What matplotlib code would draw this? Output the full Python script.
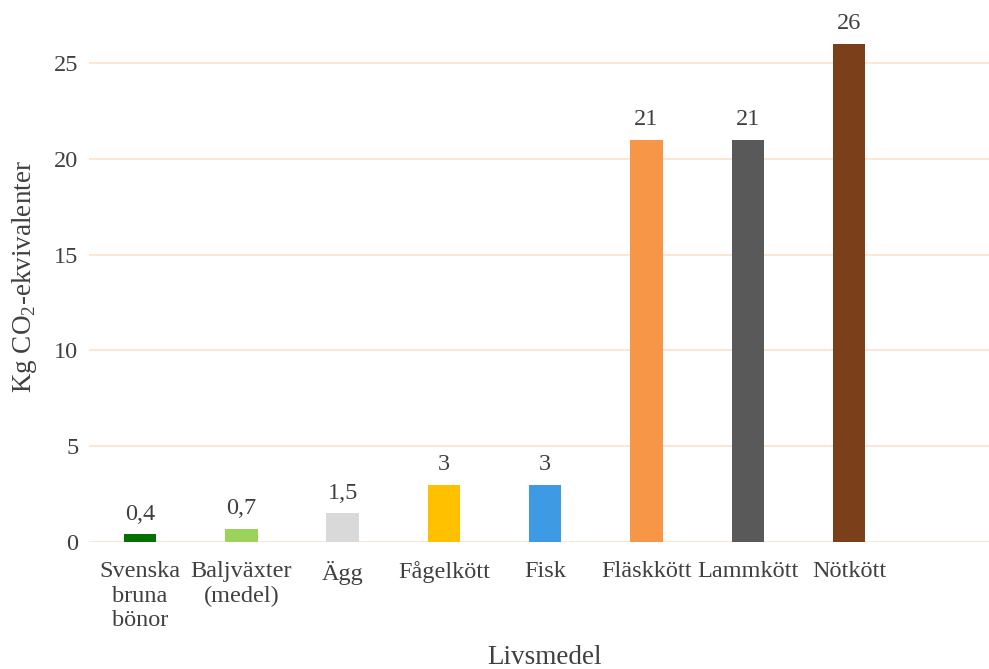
import numpy as np
import matplotlib
matplotlib.use("Agg")
import matplotlib.pyplot as plt

# data
foods = ["Svenska\nbruna\nbönor", "Baljväxter\n(medel)", "Ägg", "Fågelkött", "Fisk",
         "Fläskkött", "Lammkött", "Nötkött"]
co2 = [0.4, 0.7, 1.5, 3, 3, 21, 21, 26]
bar_colors = ["#037003", "#9BD35A", "#D9D9D9", "#FFC000", "#3E9BE3",
              "#F79646", "#595959", "#7B3F1A"]
yticks = [0, 5, 10, 15, 20, 25]

plt.rcParams["font.family"] = ["Liberation Serif", "DejaVu Serif"]
plt.rcParams["mathtext.fontset"] = "custom"
plt.rcParams["mathtext.rm"] = "Liberation Serif"
text_color = "#404040"
grid_color = "#FBE5D0"

fig = plt.figure(figsize=(9.89, 6.69), dpi=100)
ax = fig.add_axes([89.4 / 989, 1 - 542 / 669, 911.7 / 989, 542 / 669])

x = np.arange(len(foods))
bars = ax.bar(x, co2, width=0.32, color=bar_colors, zorder=3)

for xi, v in zip(x, co2):
    lbl = f"{v:g}".replace(".", ",")
    ax.annotate(lbl, (xi, v), xytext=(0, 7), textcoords="offset points",
                ha="center", va="bottom", fontsize=17.5, color=text_color)

ax.set_xlim(-0.5, 8.5)
ax.set_ylim(0, 28.3)
ax.set_yticks(yticks)
ax.set_yticklabels([str(t) for t in yticks])
ax.set_xticks(x)
ax.set_xticklabels(foods, fontsize=17.5, color=text_color, linespacing=1.22)
ax.tick_params(axis="y", labelsize=17.5, labelcolor=text_color, length=0, pad=8)
ax.tick_params(axis="x", length=0, pad=14)

ax.yaxis.grid(True, color=grid_color, linewidth=1.3, zorder=0)
for s in ax.spines.values():
    s.set_visible(False)

fig.text(545 / 989, 1 - 657 / 669, "Livsmedel", ha="center", va="center",
         fontsize=19.5, color=text_color)
fig.text(25 / 989, 1 - 277 / 669, "Kg CO$_\\mathrm{2}$-ekvivalenter", rotation=90,
         ha="center", va="center", fontsize=19.5, color=text_color)

fig.savefig("out.png", dpi=100)
